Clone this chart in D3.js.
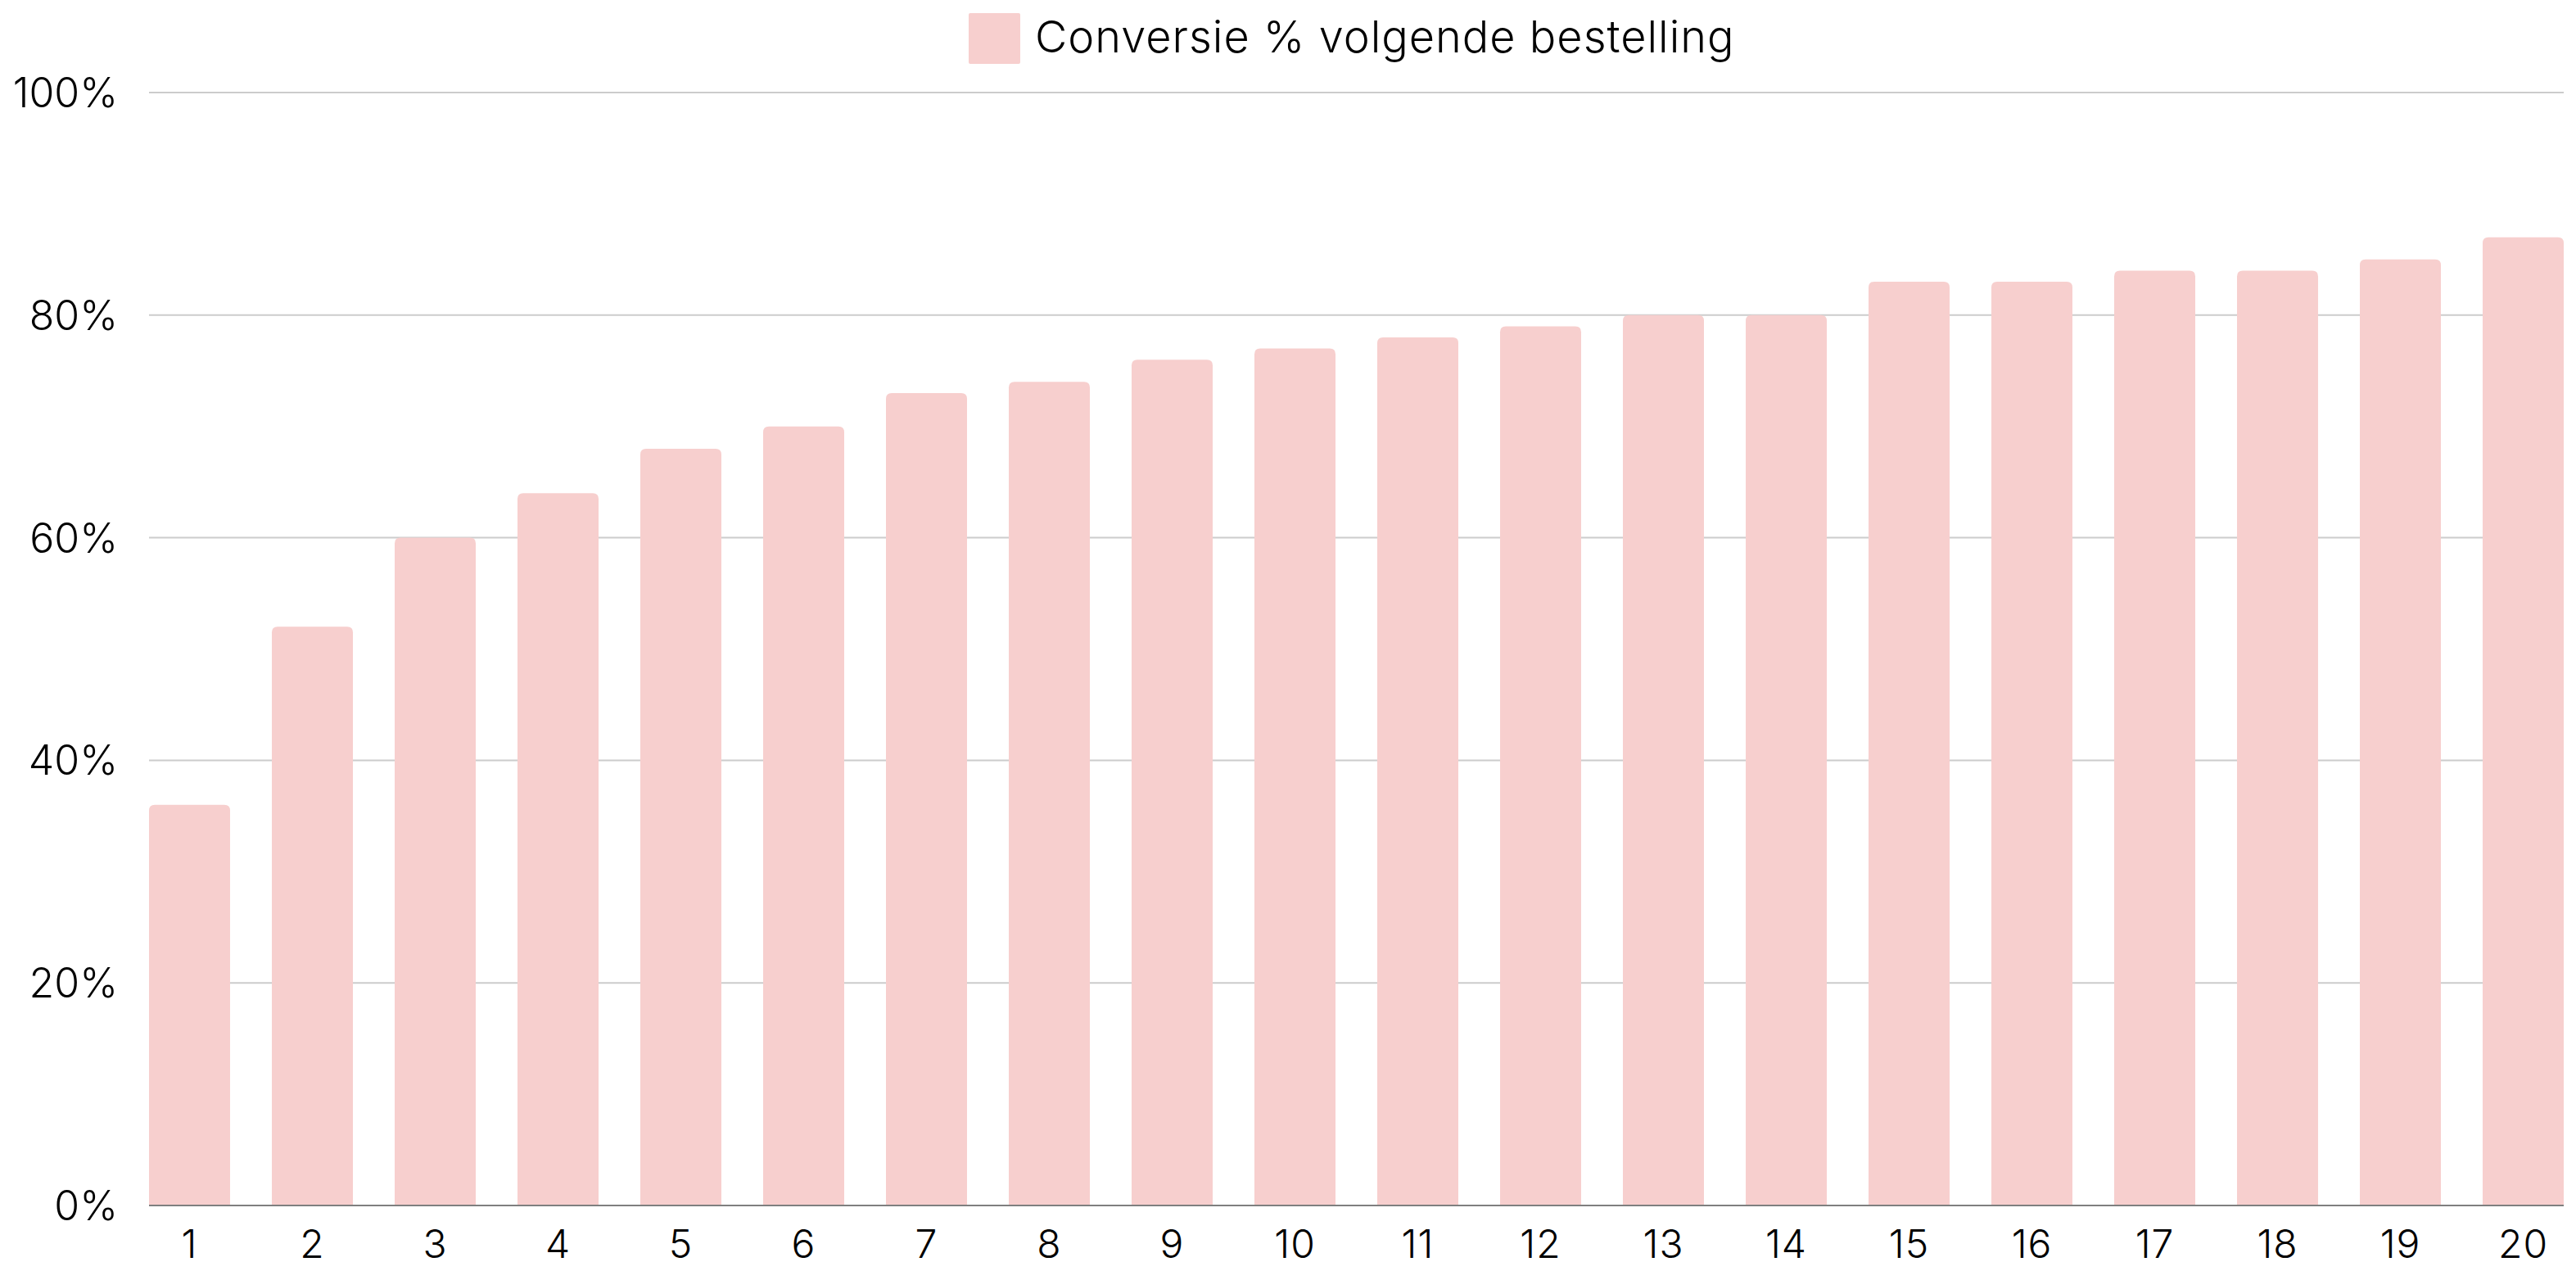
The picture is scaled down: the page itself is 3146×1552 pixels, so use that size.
<!DOCTYPE html>
<html>
<head>
<meta charset="utf-8">
<script src="https://cdn.jsdelivr.net/npm/d3@7"></script>
<style>
  body { margin: 0; background: #fff; }
  svg text { font-family: Inter, Lato, "Noto Sans", sans-serif; font-weight: 300; fill: #000; }
</style>
</head>
<body>
<svg id="chart" width="3146" height="1552"></svg>
<script>
const categories = ["1","2","3","4","5","6","7","8","9","10","11","12","13","14","15","16","17","18","19","20"]
const conversie = [36, 52, 60, 64, 68, 70, 73, 74, 76, 77, 78, 79, 80, 80, 83, 83, 84, 84, 85, 87]
const yTicks = [0, 20, 40, 60, 80, 100]
const seriesName = "Conversie % volgende bestelling"

const W = 3146, H = 1552
const margin = { top: 113, right: 15, bottom: 80, left: 182 }
const barColor = "#f7cfce"

const svg = d3.select("#chart")

const x = d3.scaleBand()
  .domain(categories)
  .range([margin.left, W - margin.right])
  .paddingInner(0.34)
  .paddingOuter(0)

const y = d3.scaleLinear()
  .domain([0, 100])
  .range([H - margin.bottom, margin.top])

// gridlines
svg.append("g")
  .selectAll("line")
  .data(yTicks.filter(d => d > 0))
  .join("line")
  .attr("x1", margin.left)
  .attr("x2", W - margin.right)
  .attr("y1", d => y(d))
  .attr("y2", d => y(d))
  .attr("stroke", "#cccccc")
  .attr("stroke-width", 2)

// baseline
svg.append("line")
  .attr("x1", margin.left)
  .attr("x2", W - margin.right)
  .attr("y1", y(0))
  .attr("y2", y(0))
  .attr("stroke", "#7f7f7f")
  .attr("stroke-width", 2)

// bars with rounded top corners
function topRounded(x0, y0, w, h, r) {
  r = Math.min(r, w / 2, h)
  return "M" + x0 + "," + (y0 + h) +
    "V" + (y0 + r) +
    "Q" + x0 + "," + y0 + " " + (x0 + r) + "," + y0 +
    "H" + (x0 + w - r) +
    "Q" + (x0 + w) + "," + y0 + " " + (x0 + w) + "," + (y0 + r) +
    "V" + (y0 + h) + "Z"
}

svg.append("g")
  .selectAll("path")
  .data(conversie)
  .join("path")
  .attr("d", (d, i) => topRounded(x(categories[i]), y(d), x.bandwidth(), y(0) - y(d) - 1, 7))
  .attr("fill", barColor)

// y axis labels
const yAxis = d3.axisLeft(y)
  .tickValues(yTicks)
  .tickFormat(d => d + "%")
  .tickSize(0)
  .tickPadding(38)

svg.append("g")
  .attr("transform", "translate(" + margin.left + ",0)")
  .call(yAxis)
  .call(g => g.select(".domain").remove())
  .call(g => g.selectAll("text").style("font-size", "50px").attr("dy", "0.35em"))

// x axis labels
const xAxis = d3.axisBottom(x).tickSize(0).tickPadding(30)

svg.append("g")
  .attr("transform", "translate(0," + y(0) + ")")
  .call(xAxis)
  .call(g => g.select(".domain").remove())
  .call(g => g.selectAll("text").style("font-size", "48px").style("letter-spacing", "1px"))

// legend
const legend = svg.append("g").attr("transform", "translate(1183,16)")
legend.append("rect")
  .attr("width", 63)
  .attr("height", 62)
  .attr("rx", 2)
  .attr("fill", barColor)
legend.append("text")
  .attr("x", 81)
  .attr("y", 29)
  .attr("dy", "0.35em")
  .style("font-size", "54px")
  .style("letter-spacing", "1px")
  .text(seriesName)
</script>
</body>
</html>
